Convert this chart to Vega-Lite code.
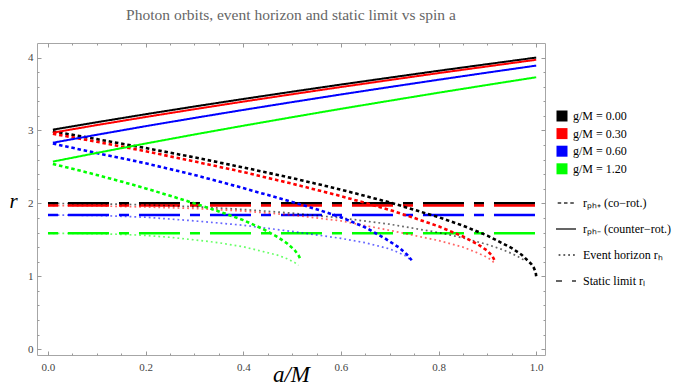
{
  "$schema": "https://vega.github.io/schema/vega-lite/v6.json",
  "autosize": {"type": "none"},
  "padding": {"left": 37, "top": 43, "right": 135, "bottom": 31},
  "width": 508,
  "height": 312,
  "background": "white",
  "title": {"text": "Photon orbits, event horizon and static limit vs spin a", "anchor": "middle", "frame": "group", "font": "Liberation Serif", "fontSize": 15.5, "fontWeight": "normal", "color": "#666666", "offset": 19},
  "config": {
    "view": {"stroke": "#a6a6a6", "strokeWidth": 1},
    "font": "Liberation Serif",
    "axis": {"domain": false, "grid": false, "labelFont": "Liberation Serif", "labelFontSize": 11, "labelColor": "#444444", "tickColor": "#999999", "tickWidth": 1}
  },
  "data": {"values": [
    {"a": 0.01, "r": 3.011, "g": "0.00", "t": "counter"},
    {"a": 0.1, "r": 3.113, "g": "0.00", "t": "counter"},
    {"a": 0.2, "r": 3.223, "g": "0.00", "t": "counter"},
    {"a": 0.3, "r": 3.329, "g": "0.00", "t": "counter"},
    {"a": 0.4, "r": 3.432, "g": "0.00", "t": "counter"},
    {"a": 0.5, "r": 3.532, "g": "0.00", "t": "counter"},
    {"a": 0.6, "r": 3.63, "g": "0.00", "t": "counter"},
    {"a": 0.7, "r": 3.725, "g": "0.00", "t": "counter"},
    {"a": 0.8, "r": 3.819, "g": "0.00", "t": "counter"},
    {"a": 0.9, "r": 3.91, "g": "0.00", "t": "counter"},
    {"a": 1.0, "r": 4.0, "g": "0.00", "t": "counter"},
    {"a": 0.01, "r": 2.97, "g": "0.30", "t": "counter"},
    {"a": 0.1, "r": 3.074, "g": "0.30", "t": "counter"},
    {"a": 0.2, "r": 3.185, "g": "0.30", "t": "counter"},
    {"a": 0.3, "r": 3.292, "g": "0.30", "t": "counter"},
    {"a": 0.4, "r": 3.396, "g": "0.30", "t": "counter"},
    {"a": 0.5, "r": 3.497, "g": "0.30", "t": "counter"},
    {"a": 0.6, "r": 3.596, "g": "0.30", "t": "counter"},
    {"a": 0.7, "r": 3.692, "g": "0.30", "t": "counter"},
    {"a": 0.8, "r": 3.787, "g": "0.30", "t": "counter"},
    {"a": 0.9, "r": 3.879, "g": "0.30", "t": "counter"},
    {"a": 1.0, "r": 3.97, "g": "0.30", "t": "counter"},
    {"a": 0.01, "r": 2.832, "g": "0.60", "t": "counter"},
    {"a": 0.1, "r": 2.941, "g": "0.60", "t": "counter"},
    {"a": 0.2, "r": 3.059, "g": "0.60", "t": "counter"},
    {"a": 0.3, "r": 3.172, "g": "0.60", "t": "counter"},
    {"a": 0.4, "r": 3.282, "g": "0.60", "t": "counter"},
    {"a": 0.5, "r": 3.389, "g": "0.60", "t": "counter"},
    {"a": 0.6, "r": 3.494, "g": "0.60", "t": "counter"},
    {"a": 0.7, "r": 3.596, "g": "0.60", "t": "counter"},
    {"a": 0.8, "r": 3.696, "g": "0.60", "t": "counter"},
    {"a": 0.9, "r": 3.794, "g": "0.60", "t": "counter"},
    {"a": 1.0, "r": 3.89, "g": "0.60", "t": "counter"},
    {"a": 0.01, "r": 2.573, "g": "1.20", "t": "counter"},
    {"a": 0.1, "r": 2.692, "g": "1.20", "t": "counter"},
    {"a": 0.2, "r": 2.821, "g": "1.20", "t": "counter"},
    {"a": 0.3, "r": 2.945, "g": "1.20", "t": "counter"},
    {"a": 0.4, "r": 3.065, "g": "1.20", "t": "counter"},
    {"a": 0.5, "r": 3.182, "g": "1.20", "t": "counter"},
    {"a": 0.6, "r": 3.297, "g": "1.20", "t": "counter"},
    {"a": 0.7, "r": 3.408, "g": "1.20", "t": "counter"},
    {"a": 0.8, "r": 3.518, "g": "1.20", "t": "counter"},
    {"a": 0.9, "r": 3.625, "g": "1.20", "t": "counter"},
    {"a": 1.0, "r": 3.73, "g": "1.20", "t": "counter"},

    {"a": 0.01, "r": 2.988, "g": "0.00", "t": "co"},
    {"a": 0.1, "r": 2.881, "g": "0.00", "t": "co"},
    {"a": 0.2, "r": 2.759, "g": "0.00", "t": "co"},
    {"a": 0.3, "r": 2.631, "g": "0.00", "t": "co"},
    {"a": 0.4, "r": 2.493, "g": "0.00", "t": "co"},
    {"a": 0.5, "r": 2.347, "g": "0.00", "t": "co"},
    {"a": 0.6, "r": 2.189, "g": "0.00", "t": "co"},
    {"a": 0.7, "r": 2.013, "g": "0.00", "t": "co"},
    {"a": 0.8, "r": 1.811, "g": "0.00", "t": "co"},
    {"a": 0.85, "r": 1.694, "g": "0.00", "t": "co"},
    {"a": 0.9, "r": 1.558, "g": "0.00", "t": "co"},
    {"a": 0.95, "r": 1.386, "g": "0.00", "t": "co"},
    {"a": 0.97, "r": 1.296, "g": "0.00", "t": "co"},
    {"a": 0.99, "r": 1.168, "g": "0.00", "t": "co"},
    {"a": 0.995, "r": 1.118, "g": "0.00", "t": "co"},
    {"a": 0.999, "r": 1.053, "g": "0.00", "t": "co"},
    {"a": 1.0, "r": 1.0, "g": "0.00", "t": "co"},
    {"a": 0.01, "r": 2.955, "g": "0.30", "t": "co"},
    {"a": 0.1, "r": 2.845, "g": "0.30", "t": "co"},
    {"a": 0.2, "r": 2.715, "g": "0.30", "t": "co"},
    {"a": 0.3, "r": 2.575, "g": "0.30", "t": "co"},
    {"a": 0.4, "r": 2.43, "g": "0.30", "t": "co"},
    {"a": 0.5, "r": 2.27, "g": "0.30", "t": "co"},
    {"a": 0.6, "r": 2.1, "g": "0.30", "t": "co"},
    {"a": 0.7, "r": 1.91, "g": "0.30", "t": "co"},
    {"a": 0.75, "r": 1.8, "g": "0.30", "t": "co"},
    {"a": 0.8, "r": 1.685, "g": "0.30", "t": "co"},
    {"a": 0.85, "r": 1.545, "g": "0.30", "t": "co"},
    {"a": 0.88, "r": 1.44, "g": "0.30", "t": "co"},
    {"a": 0.9, "r": 1.35, "g": "0.30", "t": "co"},
    {"a": 0.91, "r": 1.28, "g": "0.30", "t": "co"},
    {"a": 0.916, "r": 1.2, "g": "0.30", "t": "co"},
    {"a": 0.01, "r": 2.82, "g": "0.60", "t": "co"},
    {"a": 0.1, "r": 2.69, "g": "0.60", "t": "co"},
    {"a": 0.2, "r": 2.55, "g": "0.60", "t": "co"},
    {"a": 0.3, "r": 2.39, "g": "0.60", "t": "co"},
    {"a": 0.4, "r": 2.21, "g": "0.60", "t": "co"},
    {"a": 0.5, "r": 2.02, "g": "0.60", "t": "co"},
    {"a": 0.55, "r": 1.92, "g": "0.60", "t": "co"},
    {"a": 0.6, "r": 1.81, "g": "0.60", "t": "co"},
    {"a": 0.65, "r": 1.67, "g": "0.60", "t": "co"},
    {"a": 0.69, "r": 1.52, "g": "0.60", "t": "co"},
    {"a": 0.72, "r": 1.39, "g": "0.60", "t": "co"},
    {"a": 0.735, "r": 1.3, "g": "0.60", "t": "co"},
    {"a": 0.745, "r": 1.22, "g": "0.60", "t": "co"},
    {"a": 0.01, "r": 2.54, "g": "1.20", "t": "co"},
    {"a": 0.05, "r": 2.475, "g": "1.20", "t": "co"},
    {"a": 0.1, "r": 2.39, "g": "1.20", "t": "co"},
    {"a": 0.15, "r": 2.3, "g": "1.20", "t": "co"},
    {"a": 0.2, "r": 2.205, "g": "1.20", "t": "co"},
    {"a": 0.25, "r": 2.105, "g": "1.20", "t": "co"},
    {"a": 0.3, "r": 2.0, "g": "1.20", "t": "co"},
    {"a": 0.35, "r": 1.89, "g": "1.20", "t": "co"},
    {"a": 0.4, "r": 1.77, "g": "1.20", "t": "co"},
    {"a": 0.44, "r": 1.65, "g": "1.20", "t": "co"},
    {"a": 0.47, "r": 1.54, "g": "1.20", "t": "co"},
    {"a": 0.49, "r": 1.45, "g": "1.20", "t": "co"},
    {"a": 0.505, "r": 1.36, "g": "1.20", "t": "co"},
    {"a": 0.513, "r": 1.29, "g": "1.20", "t": "co"},
    {"a": 0.516, "r": 1.25, "g": "1.20", "t": "co"},

    {"a": 0.0, "r": 2.0, "g": "0.00", "t": "horizon"},
    {"a": 0.1, "r": 1.995, "g": "0.00", "t": "horizon"},
    {"a": 0.2, "r": 1.98, "g": "0.00", "t": "horizon"},
    {"a": 0.3, "r": 1.954, "g": "0.00", "t": "horizon"},
    {"a": 0.4, "r": 1.917, "g": "0.00", "t": "horizon"},
    {"a": 0.5, "r": 1.866, "g": "0.00", "t": "horizon"},
    {"a": 0.6, "r": 1.8, "g": "0.00", "t": "horizon"},
    {"a": 0.7, "r": 1.714, "g": "0.00", "t": "horizon"},
    {"a": 0.8, "r": 1.6, "g": "0.00", "t": "horizon"},
    {"a": 0.85, "r": 1.527, "g": "0.00", "t": "horizon"},
    {"a": 0.9, "r": 1.436, "g": "0.00", "t": "horizon"},
    {"a": 0.93, "r": 1.368, "g": "0.00", "t": "horizon"},
    {"a": 0.95, "r": 1.312, "g": "0.00", "t": "horizon"},
    {"a": 0.965, "r": 1.262, "g": "0.00", "t": "horizon"},
    {"a": 0.975, "r": 1.222, "g": "0.00", "t": "horizon"},
    {"a": 0.0, "r": 1.97, "g": "0.30", "t": "horizon"},
    {"a": 0.1, "r": 1.965, "g": "0.30", "t": "horizon"},
    {"a": 0.2, "r": 1.95, "g": "0.30", "t": "horizon"},
    {"a": 0.3, "r": 1.93, "g": "0.30", "t": "horizon"},
    {"a": 0.4, "r": 1.895, "g": "0.30", "t": "horizon"},
    {"a": 0.5, "r": 1.84, "g": "0.30", "t": "horizon"},
    {"a": 0.6, "r": 1.76, "g": "0.30", "t": "horizon"},
    {"a": 0.7, "r": 1.63, "g": "0.30", "t": "horizon"},
    {"a": 0.75, "r": 1.56, "g": "0.30", "t": "horizon"},
    {"a": 0.8, "r": 1.49, "g": "0.30", "t": "horizon"},
    {"a": 0.85, "r": 1.4, "g": "0.30", "t": "horizon"},
    {"a": 0.88, "r": 1.32, "g": "0.30", "t": "horizon"},
    {"a": 0.9, "r": 1.26, "g": "0.30", "t": "horizon"},
    {"a": 0.91, "r": 1.21, "g": "0.30", "t": "horizon"},
    {"a": 0.916, "r": 1.17, "g": "0.30", "t": "horizon"},
    {"a": 0.0, "r": 1.84, "g": "0.60", "t": "horizon"},
    {"a": 0.1, "r": 1.835, "g": "0.60", "t": "horizon"},
    {"a": 0.2, "r": 1.81, "g": "0.60", "t": "horizon"},
    {"a": 0.3, "r": 1.76, "g": "0.60", "t": "horizon"},
    {"a": 0.4, "r": 1.7, "g": "0.60", "t": "horizon"},
    {"a": 0.5, "r": 1.615, "g": "0.60", "t": "horizon"},
    {"a": 0.6, "r": 1.52, "g": "0.60", "t": "horizon"},
    {"a": 0.65, "r": 1.46, "g": "0.60", "t": "horizon"},
    {"a": 0.7, "r": 1.375, "g": "0.60", "t": "horizon"},
    {"a": 0.72, "r": 1.32, "g": "0.60", "t": "horizon"},
    {"a": 0.735, "r": 1.27, "g": "0.60", "t": "horizon"},
    {"a": 0.745, "r": 1.21, "g": "0.60", "t": "horizon"},
    {"a": 0.0, "r": 1.59, "g": "1.20", "t": "horizon"},
    {"a": 0.1, "r": 1.585, "g": "1.20", "t": "horizon"},
    {"a": 0.15, "r": 1.575, "g": "1.20", "t": "horizon"},
    {"a": 0.2, "r": 1.56, "g": "1.20", "t": "horizon"},
    {"a": 0.25, "r": 1.535, "g": "1.20", "t": "horizon"},
    {"a": 0.3, "r": 1.5, "g": "1.20", "t": "horizon"},
    {"a": 0.35, "r": 1.46, "g": "1.20", "t": "horizon"},
    {"a": 0.4, "r": 1.405, "g": "1.20", "t": "horizon"},
    {"a": 0.44, "r": 1.34, "g": "1.20", "t": "horizon"},
    {"a": 0.47, "r": 1.29, "g": "1.20", "t": "horizon"},
    {"a": 0.49, "r": 1.24, "g": "1.20", "t": "horizon"},
    {"a": 0.505, "r": 1.19, "g": "1.20", "t": "horizon"},
    {"a": 0.513, "r": 1.15, "g": "1.20", "t": "horizon"},

    {"a": 0.0, "r": 2.0, "g": "0.00", "t": "static"},
    {"a": 1.0, "r": 2.0, "g": "0.00", "t": "static"},
    {"a": 0.0, "r": 1.97, "g": "0.30", "t": "static"},
    {"a": 1.0, "r": 1.97, "g": "0.30", "t": "static"},
    {"a": 0.0, "r": 1.84, "g": "0.60", "t": "static"},
    {"a": 1.0, "r": 1.84, "g": "0.60", "t": "static"},
    {"a": 0.0, "r": 1.59, "g": "1.20", "t": "static"},
    {"a": 1.0, "r": 1.59, "g": "1.20", "t": "static"}
  ]},
  "encoding": {
    "x": {"field": "a", "type": "quantitative", "axis": null, "scale": {"domain": [-0.0225, 1.018], "nice": false, "zero": false}},
    "y": {"field": "r", "type": "quantitative", "axis": null, "scale": {"domain": [-0.08, 4.2], "nice": false, "zero": false}},
    "color": {
      "field": "g", "type": "nominal",
      "scale": {"domain": ["0.00", "0.30", "0.60", "1.20"], "range": ["#000000", "#ff0000", "#0000ff", "#00ff00"]},
      "legend": {
        "title": null, "orient": "none", "legendX": 519, "legendY": 67,
        "symbolType": "square", "symbolSize": 121, "symbolStrokeWidth": 0,
        "labelFont": "Liberation Serif", "labelFontSize": 12, "labelColor": "#000000", "labelOffset": 5,
        "rowPadding": 5.6, "padding": 0,
        "labelExpr": "'g/M = ' + datum.label",
        "encode": {"symbols": {"update": {"fill": {"signal": "scale('color', datum.value)"}, "opacity": {"value": 1}}}}
      }
    },
    "strokeDash": {
      "field": "t", "type": "nominal",
      "scale": {"domain": ["co", "counter", "horizon", "static"], "range": [[3.5, 2.8], [1, 0], [1.8, 3], [41, 10, 10, 10]]},
      "legend": {
        "title": null, "orient": "none", "legendX": 518, "legendY": 149,
        "symbolType": "stroke", "symbolSize": 400, "symbolStrokeWidth": 2, "symbolStrokeColor": "#000000", "symbolDashOffset": 55,
        "labelFont": "Liberation Serif", "labelFontSize": 12, "labelColor": "#000000", "labelOffset": 6,
        "rowPadding": 9, "padding": 0,
        "labelExpr": "datum.label == 'co' ? 'rₚₕ₊ (co−rot.)' : datum.label == 'counter' ? 'rₚₕ₋ (counter−rot.)' : datum.label == 'horizon' ? 'Event horizon rₕ' : 'Static limit rₗ'"
      }
    }
  },
  "layer": [
    {
      "transform": [{"filter": "datum.t == 'static'"}],
      "mark": {"type": "line", "strokeWidth": 2.6, "strokeDashOffset": 51}
    },
    {
      "transform": [{"filter": "datum.t == 'horizon'"}],
      "mark": {"type": "line", "strokeWidth": 1.7, "opacity": 0.6}
    },
    {
      "transform": [{"filter": "datum.t == 'co'"}],
      "mark": {"type": "line", "strokeWidth": 2.6},
      "encoding": {
        "x": {"field": "a", "type": "quantitative", "axis": {"orient": "top", "title": null, "labels": false, "values": [0, 0.05, 0.1, 0.15, 0.2, 0.25, 0.3, 0.35, 0.4, 0.45, 0.5, 0.55, 0.6, 0.65, 0.7, 0.75, 0.8, 0.85, 0.9, 0.95, 1.0], "tickSize": {"condition": {"test": "round(datum.value*20) % 4 == 0", "value": -4}, "value": -2}}},
        "y": {"field": "r", "type": "quantitative", "axis": {"orient": "right", "title": null, "labels": false, "values": [0, 0.2, 0.4, 0.6, 0.8, 1, 1.2, 1.4, 1.6, 1.8, 2, 2.2, 2.4, 2.6, 2.8, 3, 3.2, 3.4, 3.6, 3.8, 4], "tickSize": {"condition": {"test": "round(datum.value*5) % 5 == 0", "value": -4}, "value": -2}}}
      }
    },
    {
      "transform": [{"filter": "datum.t == 'counter'"}],
      "mark": {"type": "line", "strokeWidth": 2},
      "encoding": {
        "x": {"field": "a", "type": "quantitative", "axis": {"orient": "bottom", "title": "a/M", "titleFont": "Liberation Serif", "titleFontStyle": "italic", "titleFontWeight": "normal", "titleFontSize": 23, "titleColor": "#000000", "titleBaseline": "alphabetic", "titleY": 26, "labelPadding": 10, "labelExpr": "round(datum.value*20) % 4 == 0 ? format(datum.value, '.1f') : ''", "values": [0, 0.05, 0.1, 0.15, 0.2, 0.25, 0.3, 0.35, 0.4, 0.45, 0.5, 0.55, 0.6, 0.65, 0.7, 0.75, 0.8, 0.85, 0.9, 0.95, 1.0], "tickSize": {"condition": {"test": "round(datum.value*20) % 4 == 0", "value": -4}, "value": -2}}},
        "y": {"field": "r", "type": "quantitative", "axis": {"orient": "left", "title": "r", "titleAngle": 0, "titleFont": "Liberation Serif", "titleFontStyle": "italic", "titleFontWeight": "normal", "titleFontSize": 21, "titleColor": "#000000", "titleAlign": "center", "titleBaseline": "middle", "titleX": -24, "titleY": 158, "labelPadding": 8, "labelExpr": "round(datum.value*5) % 5 == 0 ? format(datum.value, 'd') : ''", "values": [0, 0.2, 0.4, 0.6, 0.8, 1, 1.2, 1.4, 1.6, 1.8, 2, 2.2, 2.4, 2.6, 2.8, 3, 3.2, 3.4, 3.6, 3.8, 4], "tickSize": {"condition": {"test": "round(datum.value*5) % 5 == 0", "value": -4}, "value": -2}}}
      }
    }
  ],
  "resolve": {"axis": {"x": "independent", "y": "independent"}}
}
